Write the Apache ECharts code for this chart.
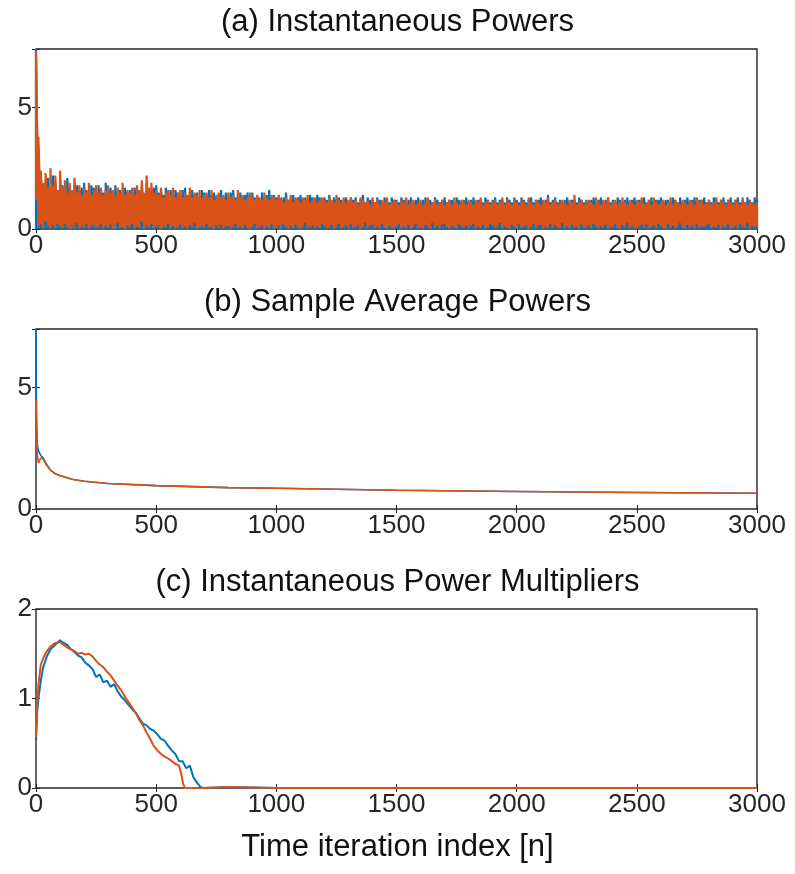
<!DOCTYPE html>
<html>
<head>
<meta charset="utf-8">
<script src="https://cdn.jsdelivr.net/npm/echarts@6/dist/echarts.min.js"></script>
<style>
html,body{margin:0;padding:0;background:#fff;}
#main{width:795px;height:874px;}
</style>
</head>
<body>
<div id="main"></div>
<script>
// (a) instantaneous powers: per bin of 10 iterations, lowest and highest value seen
var binA = 10;
var blueHighA = [
7.4,3.3,2.2,1.8,2.0,2.1,1.7,2.2,1.9,1.6,
2.0,1.8,1.6,2.1,1.7,1.5,1.9,1.8,1.6,1.7,
1.9,1.6,1.5,1.8,1.7,1.4,1.8,1.6,1.5,1.9,
1.6,1.7,1.5,1.8,1.4,1.6,1.5,1.7,1.5,1.6,
1.5,1.7,1.6,1.5,1.8,1.4,1.9,1.5,1.6,1.7,
1.8,1.5,1.6,1.4,1.7,1.5,1.6,1.4,1.6,1.5,
1.4,1.6,1.7,1.3,1.5,1.6,1.4,1.5,1.3,1.6,
1.5,1.3,1.6,1.4,1.5,1.3,1.4,1.6,1.3,1.5,
1.3,1.5,1.6,1.3,1.4,1.5,1.3,1.4,1.5,1.2,
1.5,1.3,1.4,1.2,1.5,1.3,1.4,1.6,1.3,1.4,
1.3,1.4,1.2,1.3,1.5,1.2,1.3,1.4,1.2,1.3,
1.4,1.2,1.3,1.2,1.4,1.3,1.2,1.4,1.3,1.2,
1.3,1.2,1.4,1.1,1.3,1.2,1.3,1.2,1.1,1.3,
1.1,1.3,1.2,1.3,1.1,1.2,1.4,1.1,1.3,1.2,
1.2,1.1,1.3,1.2,1.1,1.3,1.2,1.1,1.3,1.2,
1.2,1.1,1.3,1.2,1.1,1.2,1.3,1.1,1.2,1.3,
1.1,1.2,1.3,1.1,1.2,1.1,1.3,1.2,1.1,1.2,
1.3,1.1,1.2,1.2,1.1,1.3,1.2,1.1,1.2,1.3,
1.1,1.2,1.3,1.1,1.2,1.2,1.1,1.3,1.2,1.1,
1.2,1.3,1.1,1.2,1.2,1.1,1.3,1.2,1.1,1.3,
1.2,1.1,1.3,1.2,1.1,1.2,1.3,1.1,1.2,1.2,
1.3,1.1,1.2,1.4,1.1,1.2,1.3,1.1,1.2,1.1,
1.2,1.3,1.1,1.2,1.2,1.1,1.3,1.2,1.1,1.2,
1.1,1.2,1.3,1.1,1.2,1.3,1.1,1.2,1.3,1.1,
1.2,1.1,1.3,1.2,1.1,1.2,1.3,1.1,1.2,1.3,
1.1,1.2,1.2,1.3,1.1,1.2,1.3,1.1,1.2,1.2,
1.3,1.1,1.2,1.2,1.1,1.3,1.2,1.1,1.3,1.1,
1.2,1.3,1.1,1.2,1.3,1.1,1.2,1.2,1.3,1.1,
1.2,1.1,1.3,1.2,1.1,1.2,1.3,1.1,1.2,1.3,
1.1,1.2,1.3,1.1,1.2,1.1,1.3,1.2,1.1,1.3,1.2
];
var blueLowA = [
0,0.02,0,0.03,0.01,0,0.04,0.02,0,0.01,
0.03,0,0.02,0.01,0,0.05,0.01,0,0.02,0.03,
0,0.01,0.04,0,0.02,0.01,0,0.03,0.01,0,
0.02,0,0.01,0.05,0,0.02,0.01,0,0.03,0.01,
0,0.02,0.01,0,0.04,0.01,0,0.02,0,0.03,
0.01,0,0.02,0.01,0,0.03,0.02,0,0.01,0,
0.02,0.04,0,0.01,0.02,0,0.03,0.01,0,0.02,
0,0.01,0.03,0,0.02,0.01,0,0.04,0.01,0,
0.02,0,0.01,0.03,0,0.02,0.01,0,0.02,0.04,
0,0.01,0.02,0,0.03,0.01,0,0.02,0.01,0,
0.03,0,0.01,0.02,0,0.04,0.01,0,0.02,0.01,
0,0.02,0.03,0,0.01,0.02,0,0.01,0.03,0,
0.01,0,0.02,0.04,0,0.01,0.03,0,0.02,0.01,
0,0.03,0.01,0,0.02,0,0.01,0.04,0,0.02,
0.01,0,0.03,0.01,0,0.02,0.01,0,0.03,0,
0.02,0.01,0,0.02,0.04,0,0.01,0.02,0,0.03,
0,0.02,0.01,0,0.03,0.01,0,0.02,0.01,0,
0.04,0,0.02,0.01,0,0.03,0.02,0,0.01,0.02,
0,0.01,0.03,0,0.02,0.01,0,0.04,0,0.01,
0.02,0,0.01,0.03,0,0.02,0.01,0,0.02,0,
0.01,0.03,0,0.02,0.01,0,0.04,0.01,0,0.02,
0,0.01,0.02,0,0.03,0.01,0,0.02,0.01,0,
0.03,0,0.01,0.02,0,0.01,0.04,0,0.02,0.01,
0,0.02,0.01,0,0.03,0,0.01,0.02,0,0.04,
0.01,0,0.02,0.03,0,0.01,0.02,0,0.01,0.03,
0,0.02,0,0.01,0.04,0,0.02,0.01,0,0.02,
0.01,0,0.03,0.01,0,0.02,0,0.01,0.03,0,
0.02,0.01,0,0.02,0.01,0,0.03,0.01,0,0.02,
0,0.03,0.01,0,0.02,0.01,0,0.04,0.01,0,
0.02,0,0.01,0.03,0,0.02,0.01,0,0.02,0.01,0
];
var orangeHighA = [
7.3,3.8,2.4,1.9,2.3,1.7,2.5,1.8,2.2,1.6,
2.4,1.7,2.0,1.5,1.9,1.6,2.1,1.5,1.8,1.4,
1.7,1.5,1.9,1.4,1.6,1.8,1.5,1.7,1.4,1.6,
1.8,1.5,1.6,1.4,1.7,1.5,1.9,1.4,1.6,1.5,
1.7,1.4,1.8,1.6,2.0,1.5,2.2,1.7,1.9,1.5,
1.6,1.4,1.7,1.3,1.5,1.6,1.4,1.7,1.3,1.5,
1.6,1.3,1.5,1.4,1.7,1.3,1.5,1.4,1.6,1.3,
1.4,1.5,1.3,1.6,1.2,1.4,1.5,1.3,1.4,1.2,
1.5,1.3,1.4,1.2,1.6,1.3,1.4,1.2,1.3,1.5,
1.3,1.2,1.4,1.3,1.2,1.5,1.3,1.2,1.4,1.3,
1.2,1.4,1.3,1.1,1.3,1.2,1.4,1.1,1.3,1.2,
1.1,1.3,1.2,1.4,1.1,1.2,1.3,1.1,1.2,1.3,
1.2,1.1,1.3,1.2,1.1,1.4,1.2,1.1,1.3,1.1,
1.2,1.3,1.1,1.2,1.0,1.3,1.2,1.1,1.2,1.0,
1.3,1.1,1.2,1.0,1.2,1.1,1.3,1.0,1.1,1.2,
1.1,1.0,1.2,1.1,1.3,1.0,1.1,1.2,1.0,1.1,
1.2,1.0,1.1,1.3,1.0,1.1,1.2,1.0,1.1,1.2,
1.0,1.1,1.2,1.0,1.3,1.1,1.0,1.2,1.1,1.0,
1.2,1.1,1.0,1.2,1.1,1.3,1.0,1.1,1.2,1.0,
1.1,1.2,1.0,1.1,1.3,1.0,1.2,1.1,1.0,1.2,
1.1,1.0,1.2,1.1,1.0,1.3,1.1,1.0,1.2,1.1,
1.0,1.2,1.1,1.3,1.0,1.1,1.2,1.0,1.1,1.2,
1.1,1.0,1.2,1.1,1.4,1.0,1.1,1.2,1.0,1.1,
1.2,1.1,1.0,1.3,1.1,1.0,1.2,1.1,1.3,1.0,
1.1,1.2,1.0,1.1,1.3,1.1,1.0,1.2,1.1,1.0,
1.2,1.1,1.3,1.0,1.1,1.2,1.0,1.3,1.1,1.0,
1.1,1.2,1.0,1.1,1.3,1.0,1.2,1.1,1.0,1.2,
1.1,1.0,1.2,1.1,1.0,1.3,1.1,1.2,1.0,1.1,
1.2,1.0,1.1,1.3,1.0,1.2,1.1,1.0,1.2,1.1,
1.0,1.2,1.1,1.0,1.3,1.1,1.0,1.2,1.1,1.0,1.1
];
var orangeLowA = [
1.2,0.1,0.2,0.05,0.3,0.1,0.02,0.15,0.05,0.2,
0.1,0.03,0.2,0.08,0.01,0.15,0.05,0.25,0.02,0.1,
0.06,0.2,0.01,0.1,0.15,0.03,0.08,0.2,0.02,0.12,
0.05,0.18,0.02,0.1,0.25,0.04,0.08,0.01,0.15,0.06,
0.2,0.02,0.1,0.05,0.3,0.01,0.12,0.06,0.2,0.03,
0.08,0.15,0.01,0.1,0.05,0.22,0.03,0.12,0.02,0.09,
0.18,0.04,0.1,0.01,0.14,0.06,0.25,0.02,0.08,0.12,
0.03,0.2,0.06,0.1,0.01,0.15,0.05,0.18,0.02,0.1,
0.12,0.01,0.08,0.2,0.04,0.1,0.02,0.16,0.06,0.01,
0.1,0.22,0.03,0.08,0.14,0.01,0.1,0.05,0.2,0.02,
0.05,0.15,0.02,0.2,0.08,0.01,0.12,0.04,0.18,0.06,
0.01,0.1,0.25,0.03,0.08,0.15,0.02,0.1,0.05,0.2,
0.12,0.02,0.06,0.18,0.01,0.1,0.22,0.04,0.08,0.14,
0.02,0.2,0.05,0.1,0.15,0.01,0.08,0.25,0.03,0.12,
0.18,0.04,0.1,0.02,0.2,0.06,0.01,0.14,0.08,0.03,
0.1,0.22,0.02,0.12,0.05,0.18,0.01,0.08,0.2,0.04,
0.06,0.01,0.15,0.1,0.02,0.25,0.05,0.12,0.03,0.18,
0.2,0.08,0.01,0.14,0.06,0.02,0.2,0.1,0.04,0.15,
0.03,0.12,0.22,0.01,0.1,0.05,0.18,0.02,0.08,0.2,
0.14,0.04,0.1,0.25,0.02,0.12,0.06,0.01,0.18,0.08,
0.02,0.2,0.05,0.1,0.15,0.01,0.08,0.22,0.04,0.12,
0.18,0.01,0.1,0.06,0.2,0.03,0.14,0.08,0.02,0.25,
0.05,0.12,0.02,0.18,0.08,0.1,0.01,0.2,0.06,0.04,
0.15,0.03,0.22,0.1,0.01,0.12,0.05,0.18,0.02,0.1,
0.08,0.2,0.04,0.01,0.15,0.06,0.25,0.02,0.12,0.08,
0.01,0.1,0.18,0.05,0.2,0.02,0.08,0.14,0.03,0.22,
0.12,0.04,0.01,0.2,0.06,0.15,0.02,0.1,0.25,0.05,
0.02,0.18,0.08,0.12,0.01,0.2,0.04,0.1,0.06,0.15,
0.22,0.03,0.1,0.05,0.18,0.01,0.12,0.08,0.2,0.02,
0.06,0.14,0.02,0.2,0.1,0.04,0.25,0.01,0.12,0.08,0.1
];

// (b) sample average powers
var nB = [0,1,2,4,6,10,15,20,30,40,60,80,100,150,200,300,500,800,1000,1500,2000,2500,3000];
var blueB = [7.4,5.2,4.2,3.2,2.6,2.4,2.3,2.2,2.1,1.9,1.6,1.45,1.38,1.22,1.14,1.05,0.96,0.88,0.85,0.77,0.72,0.68,0.65];
var orangeB = [4.5,3.9,3.3,2.7,2.2,1.9,2.0,2.1,2.05,1.85,1.6,1.45,1.37,1.22,1.14,1.05,0.96,0.88,0.85,0.77,0.72,0.68,0.65];

// (c) instantaneous power multipliers
var nCBlue = [0,5,10,20,30,45,60,80,100,115,130,145,160,175,190,205,220,235,250,265,280,295,310,325,340,355,370,385,400,415,430,445,460,475,490,505,520,535,550,565,580,595,610,625,640,655,670,685,700,800,1000,1500,2000,2500,3000];
var blueC = [0.53,0.85,1.0,1.2,1.35,1.47,1.55,1.6,1.65,1.62,1.6,1.55,1.52,1.48,1.46,1.4,1.37,1.33,1.24,1.27,1.18,1.2,1.13,1.16,1.08,1.02,0.98,0.93,0.88,0.84,0.78,0.72,0.7,0.66,0.64,0.6,0.55,0.53,0.47,0.42,0.38,0.3,0.3,0.22,0.25,0.12,0.06,0.01,0,0.01,0,0,0,0,0];
var nCOrange = [0,5,10,20,30,45,60,80,100,115,130,145,160,175,190,205,220,235,250,265,280,295,310,325,340,355,370,385,400,415,430,445,460,475,490,505,520,535,550,565,580,595,605,612,620,700,800,1000,1500,2000,2500,3000];
var orangeC = [0.57,0.95,1.15,1.38,1.45,1.53,1.58,1.62,1.63,1.6,1.57,1.55,1.53,1.5,1.51,1.49,1.5,1.47,1.42,1.38,1.35,1.3,1.26,1.2,1.14,1.09,1.02,0.96,0.9,0.84,0.76,0.7,0.62,0.55,0.47,0.42,0.38,0.35,0.33,0.3,0.27,0.25,0.15,0.05,0,0,0.01,0,0,0,0,0];

var titles = ['(a) Instantaneous Powers', '(b) Sample Average Powers', '(c) Instantaneous Power Multipliers'];
var xLabel = 'Time iteration index [n]';

var BLUE = '#0072BD', ORANGE = '#D95319', AX = '#262626';
var FONT = 'Liberation Sans, Arial, sans-serif';

// each bin becomes a vertical stroke from its low to its high value
function binned(lows, highs, step) {
	var out = [];
	for (var i = 0; i < highs.length; i++) {
		out.push([i * step, lows[i]]);
		out.push([i * step, highs[i]]);
	}
	return out;
}
function paired(xs, ys) {
	var out = [];
	for (var i = 0; i < xs.length; i++) out.push([xs[i], ys[i]]);
	return out;
}

var chart = echarts.init(document.getElementById('main'));

var tops = [49, 329, 609];
var heights = [180, 180, 179];
var yMax = [7.4, 7.4, 2];
var yStep = [5, 5, 1];

var grids = [], xAxes = [], yAxes = [], texts = [];
for (var g = 0; g < 3; g++) {
	grids.push({left: 36, width: 721, top: tops[g], height: heights[g], show: true, borderColor: AX, borderWidth: 1.4, backgroundColor: 'transparent'});
	texts.push({type: 'text', left: 'center', top: tops[g] - 42, style: {text: titles[g], font: '31px ' + FONT, fill: '#111'}});
}
// bottom/left labelled axes
for (g = 0; g < 3; g++) {
	xAxes.push({gridIndex: g, type: 'value', min: 0, max: 3000, interval: 500, position: 'bottom',
		axisLine: {show: false}, splitLine: {show: false},
		axisTick: {inside: true, length: 4, lineStyle: {color: AX}},
		axisLabel: {color: AX, fontSize: 26, fontFamily: FONT, margin: 4, formatter: function (v) { return String(v); }}});
	yAxes.push({gridIndex: g, type: 'value', min: 0, max: yMax[g], interval: yStep[g], position: 'left',
		axisLine: {show: false}, splitLine: {show: false},
		axisTick: {inside: true, length: 4, lineStyle: {color: AX}},
		axisLabel: {color: AX, fontSize: 26, fontFamily: FONT, margin: 4,
			formatter: (function (s) { return function (v) { return Math.abs(v / s - Math.round(v / s)) < 1e-9 ? String(v) : ''; }; })(yStep[g])}});
}
// top/right tick-only axes (box)
for (g = 0; g < 3; g++) {
	xAxes.push({gridIndex: g, type: 'value', min: 0, max: 3000, interval: 500, position: 'top',
		axisLine: {show: false}, splitLine: {show: false}, axisLabel: {show: false},
		axisTick: {inside: true, length: 4, lineStyle: {color: AX}}});
	yAxes.push({gridIndex: g, type: 'value', min: 0, max: yMax[g], interval: yStep[g], position: 'right',
		axisLine: {show: false}, splitLine: {show: false}, axisLabel: {show: false},
		axisTick: {inside: true, length: 4, lineStyle: {color: AX}}});
}

function line(g, data, color, w) {
	return {type: 'line', xAxisIndex: g, yAxisIndex: g, data: data, showSymbol: false, symbol: 'none',
		animation: false, sampling: null, lineStyle: {color: color, width: w}, itemStyle: {color: color}, z: 1};
}

var option = {
	animation: false,
	backgroundColor: '#fff',
	grid: grids,
	xAxis: xAxes,
	yAxis: yAxes,
	graphic: texts.concat([{type: 'text', left: 'center', top: 832,
		style: {text: xLabel, font: '31px ' + FONT, fill: '#111'}}]),
	series: [
		line(0, binned(blueLowA, blueHighA, binA), BLUE, 2.2),
		line(0, binned(orangeLowA, orangeHighA, binA), ORANGE, 2.2),
		line(1, paired(nB, blueB), BLUE, 1.6),
		line(1, paired(nB, orangeB), ORANGE, 1.6),
		line(2, paired(nCBlue, blueC), BLUE, 2),
		line(2, paired(nCOrange, orangeC), ORANGE, 2)
	]
};
chart.setOption(option);
</script>
</body>
</html>
